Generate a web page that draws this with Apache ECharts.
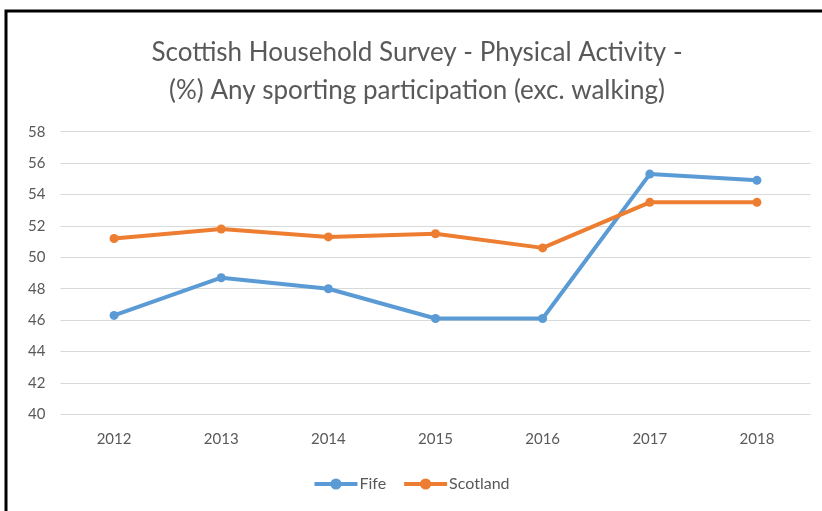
<!DOCTYPE html>
<html><head><meta charset="utf-8">
<script src="https://cdn.jsdelivr.net/npm/echarts@6/dist/echarts.min.js"></script>
<style>html,body{margin:0;padding:0;background:#fff}#c{width:822px;height:511px}</style>
</head><body><div id="c"></div>
<script>
const years = ['2012','2013','2014','2015','2016','2017','2018'];
const fife = [46.3, 48.7, 48.0, 46.1, 46.1, 55.3, 54.9];
const scotland = [51.2, 51.8, 51.3, 51.5, 50.6, 53.5, 53.5];
const titleLines = ['Scottish Household Survey - Physical Activity -', '(%) Any sporting participation (exc. walking)'];

const chart = echarts.init(document.getElementById('c'), null, {renderer:'canvas'});
const txt = '#595959';
chart.setOption({
  backgroundColor:'#fff',
  animation:false,
  title:{
    text: titleLines.join('\n'),
    left: 412, top: 29, textAlign:'center',
    textStyle:{fontFamily:'Lato', fontSize:26, fontWeight:'normal', color:txt, lineHeight:38}
  },
  graphic:[{type:'polyline', shape:{points:[[6,520],[6,11],[830,11]]}, style:{stroke:'#000', lineWidth:3, fill:null}}],
  grid:{left:60.5, right:11.5, top:131.7, bottom:96.7},
  legend:{
    data:['Fife','Scotland'], top:471, left:'center',
    itemWidth:43, itemHeight:14, itemGap:16,
    lineStyle:{width:4},
    textStyle:{fontFamily:'Lato', fontSize:16, color:txt, padding:[0,0,0,-3]}
  },
  xAxis:{type:'category', data:years, boundaryGap:true,
    axisLine:{show:false}, axisTick:{show:false},
    axisLabel:{fontFamily:'Lato', fontSize:15, color:txt, margin:17}},
  yAxis:{type:'value', min:40, max:58, interval:2,
    splitLine:{lineStyle:{color:'#d9d9d9', width:1}},
    axisLabel:{fontFamily:'Lato', fontSize:15, color:txt, margin:15}},
  series:[
    {name:'Fife', type:'line', data:fife, symbol:'circle', symbolSize:9,
      lineStyle:{color:'#5B9BD5', width:4}, itemStyle:{color:'#5B9BD5'}},
    {name:'Scotland', type:'line', data:scotland, symbol:'circle', symbolSize:9,
      lineStyle:{color:'#ED7D31', width:4}, itemStyle:{color:'#ED7D31'}}
  ]
});
</script></body></html>
